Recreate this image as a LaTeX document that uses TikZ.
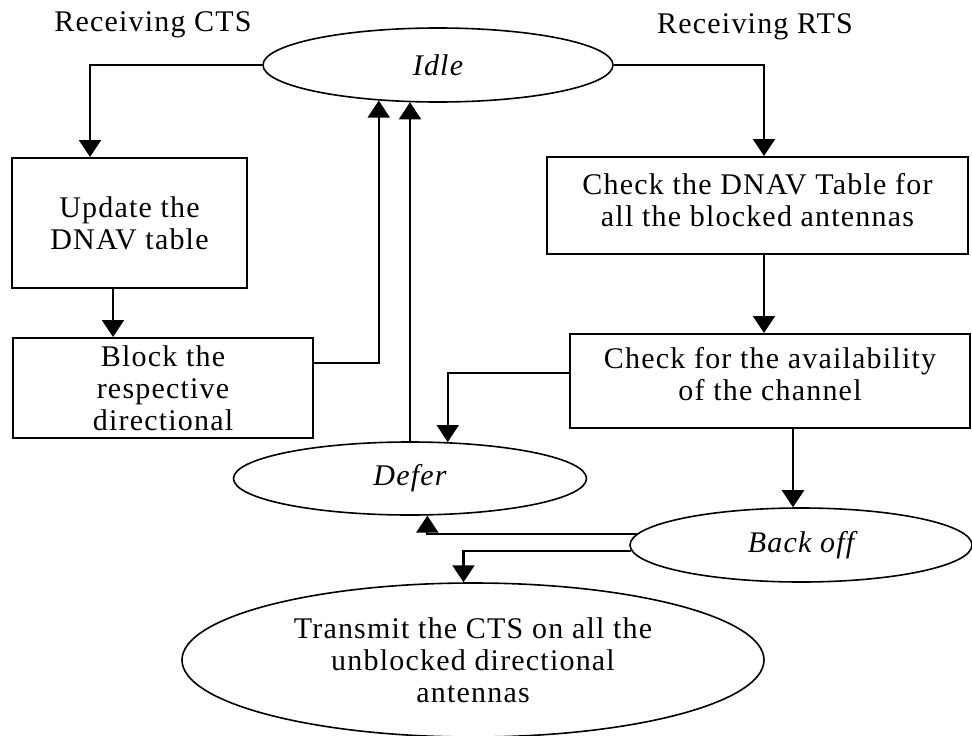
\documentclass[tikz,border=0pt]{standalone}
\usepackage{fontspec}
\setmainfont{Liberation Serif}[LetterSpace=4]
\usetikzlibrary{arrows.meta,shapes.geometric}
\begin{document}
\begin{tikzpicture}[x=1pt,y=-1pt,
  every node/.style={font=\fontsize{30}{32}\selectfont, align=center, inner sep=0pt},
  stepbox/.style={draw, line width=2pt, rectangle},
  state/.style={draw, line width=1.6pt, ellipse, fill=white, font=\fontsize{30}{32}\selectfont\itshape},
  plain/.style={draw, line width=1.6pt, ellipse, fill=white},
  arr/.style={line width=2.1pt, -{Triangle[width=22pt,length=17pt]}}]
\useasboundingbox (0,0) rectangle (972,736);

% headings
\node (rcts) at (153,25) {Receiving CTS};
\node (rrts) at (755,27) {Receiving RTS};

% states
\node[state, minimum width=350pt, minimum height=74pt] (idle) at (438,65) {Idle};
\node[state, minimum width=353pt, minimum height=73pt] (defer) at (410,478.5) {Defer};
\node[state, minimum width=342pt, minimum height=74pt] (backoff) at (801,545) {Back off};
\node[plain, minimum width=582pt, minimum height=154pt] (tx) at (473,660)
  {Transmit the CTS on all the\\unblocked directional\\antennas};

% process boxes
\node[stepbox, minimum width=235pt, minimum height=130pt] (upd) at (129.5,223)
  {Update the\\DNAV table};
\node[stepbox, minimum width=300pt, minimum height=100pt] (blk) at (163,388)
  {Block the\\respective\\directional};
\node[stepbox, minimum width=421pt, minimum height=97pt] (dnav) at (757.5,205.5)
  {Check the DNAV Table for\\all the blocked antennas\\[-20pt]};
\node[stepbox, minimum width=400pt, minimum height=94pt] (avail) at (770,381)
  {Check for the availability\\of the channel\\[-18pt]};

% CTS branch
\draw[arr] (idle.west) -| ([xshift=-39.5pt]upd.north);
\draw[arr] ([xshift=-16.5pt]upd.south) coordinate (u1) -- (u1 |- blk.north);
\draw[arr] ([yshift=25pt]blk.east) -| (idle.211);
\draw[arr, line width=1.6pt] (defer.north) -- (defer.north |- idle.232.5);

% RTS branch
\draw[arr] (idle.east) -| ([xshift=6.5pt]dnav.north);
\draw[arr] ([xshift=6.5pt]dnav.south) coordinate (d1) -- (d1 |- avail.north);
\draw[arr] ([yshift=8pt]avail.west) -| (defer.44);
\draw[arr] ([xshift=23pt]avail.south) coordinate (a1) -- (a1 |- backoff.102);
\draw[arr] (backoff.176) -| (defer.295);
\draw[arr] (backoff.182) -| (tx.97.4);
\end{tikzpicture}
\end{document}
